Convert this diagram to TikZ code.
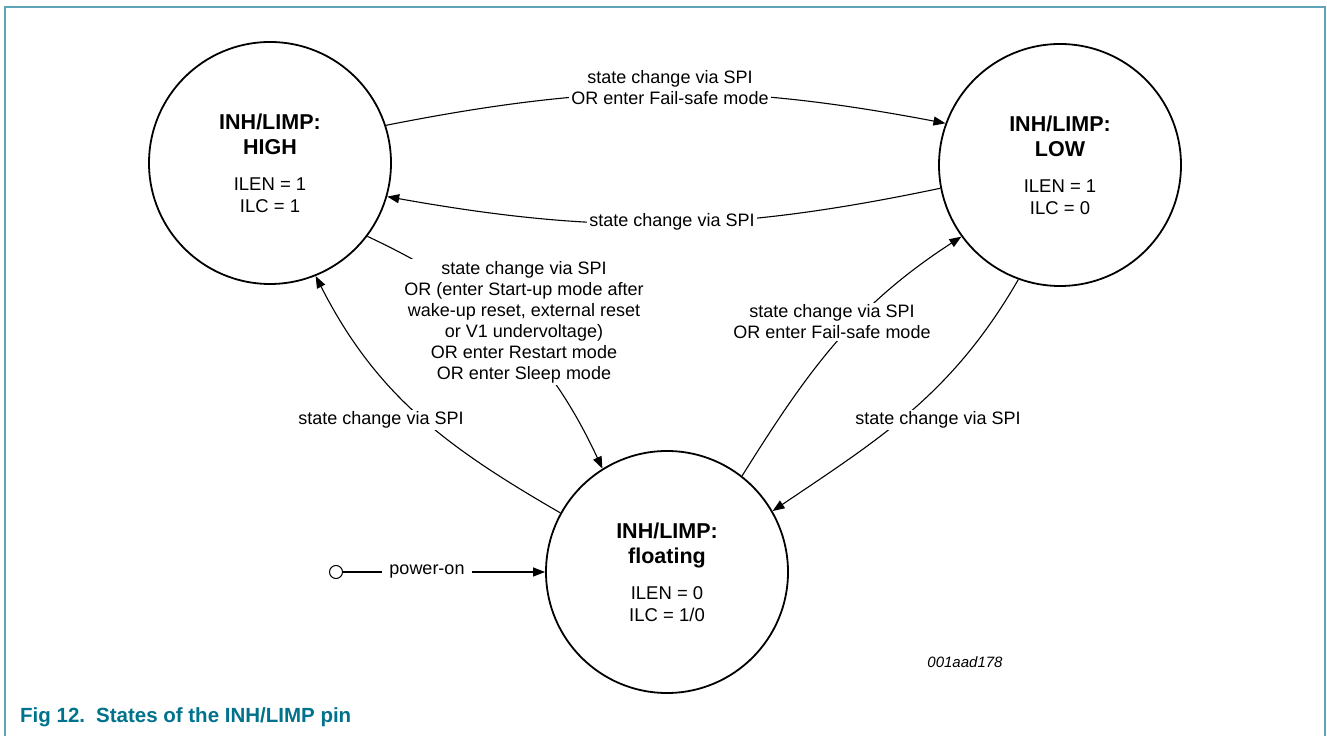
\documentclass[tikz,border=0pt]{standalone}
\usepackage{fontspec}
\setmainfont{Liberation Sans}
\usetikzlibrary{arrows.meta}
\definecolor{framecol}{RGB}{96,164,184}
\definecolor{capcol}{RGB}{0,114,140}
\newcommand{\stitle}[1]{{\fontsize{21.5}{25}\selectfont\bfseries #1}}
\tikzset{
  pinstate/.style={circle, draw, line width=1.8pt, minimum size=242pt, inner sep=0pt,
    align=center, font=\fontsize{18.5}{22}\selectfont},
  conn/.style={line width=1.1pt, -{Triangle[length=12pt,width=9pt]}},
  lbl/.style={fill=white, inner sep=2pt, align=center, font=\fontsize{18}{21}\selectfont},
  init/.style={circle, draw, line width=1pt, minimum size=13pt, inner sep=0pt}
}
\begin{document}
\begin{tikzpicture}[x=1pt,y=1pt]
  \useasboundingbox (0,0) rectangle (1327,736);
  % frame
  \draw[framecol,line width=2pt] (5,0) -- (5,729) -- (1325,729) -- (1325,0);
  % states
  \node[pinstate] (high) at (270,573) {\stitle{INH/LIMP:}\\[3pt]\stitle{HIGH}\\[14pt]ILEN = 1\\ILC = 1};
  \node[pinstate] (low) at (1060,571) {\stitle{INH/LIMP:}\\[3pt]\stitle{LOW}\\[14pt]ILEN = 1\\ILC = 0};
  \node[pinstate] (flt) at (667,164) {\stitle{INH/LIMP:}\\[3pt]\stitle{floating}\\[14pt]ILEN = 0\\ILC = 1/0};
  % transitions
  \draw[conn] (high.18) to[bend left=11] (low.160);
  \draw[conn] (low.191) to[bend left=11] (high.-16);
  \draw[conn] (high.-37) to[out=-25,in=115] (flt.122);
  \draw[conn] (flt.151) to[out=150,in=-63] (high.-68);
  \draw[conn] (flt.52) to[out=58,in=213] (low.216);
  \draw[conn] (low.250) to[out=240,in=34] (flt.30);
  % labels
  \node[lbl] (ltop) at (670,648) {state change via SPI\\OR enter Fail-safe mode};
  \node[lbl] (lbot) at (672,514) {state change via SPI};
  \node[lbl] (lhf) at (524,414) {state change via SPI\\OR (enter Start-up mode after\\wake-up reset, external reset\\or V1 undervoltage)\\OR enter Restart mode\\OR enter Sleep mode};
  \node[lbl] (lfh) at (381,316) {state change via SPI};
  \node[lbl] (lfl) at (832,414) {state change via SPI\\OR enter Fail-safe mode};
  \node[lbl] (llf) at (938,316) {state change via SPI};
  % power-on
  \node[init] (pwr) at (336,164) {};
  \node[lbl, inner sep=7pt] (pon) at (427,164) {power-on};
  \draw[line width=1.1pt] (pwr) -- (pon);
  \draw[conn] (pon) -- (flt);
  % figure id and caption
  \node[font=\fontsize{15}{18}\selectfont\itshape] (fid) at (965,74) {001aad178};
  \node[anchor=base west, inner sep=0pt, text=capcol, font=\fontsize{20.5}{25}\selectfont\bfseries] (cap) at (20,14) {Fig 12.\hspace{11pt}States of the INH/LIMP pin};
\end{tikzpicture}
\end{document}
